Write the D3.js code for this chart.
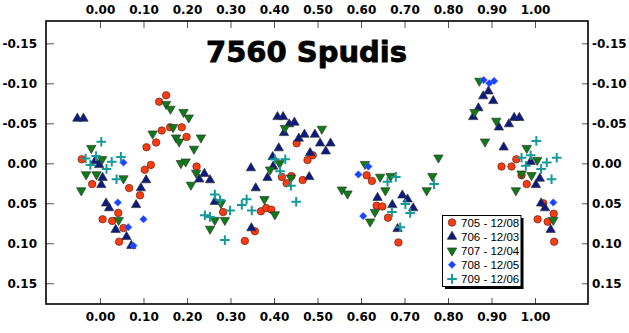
<!DOCTYPE html>
<html>
<head>
<meta charset="utf-8">
<script src="https://cdn.jsdelivr.net/npm/d3@7"></script>
<style>
  html, body { margin: 0; padding: 0; background: #fff; }
  svg { display: block; }
</style>
</head>
<body>
<svg id="chart" width="629" height="333"></svg>
<script>
// Lightcurve of asteroid 7560 Spudis: reduced magnitude vs. rotational phase.
const chartTitle = "7560 Spudis";

const seriesNames = ["705 - 12/08", "706 - 12/03", "707 - 12/04", "708 - 12/05", "709 - 12/06"];

// [phase, magnitude] pairs per session
const s705 = [
  [-0.042,-0.005],[-0.018,0.026],[0.006,0.070],[0.028,0.072],[0.042,0.062],[0.044,0.098],
  [0.054,0.081],[0.067,0.031],[0.092,0.040],[0.103,0.008],[0.117,0.002],[0.107,-0.020],
  [0.129,-0.026],[0.142,-0.041],[0.136,-0.077],[0.152,-0.085],[0.161,-0.045],[0.188,-0.045],
  [0.199,-0.033],[0.222,0.004],[0.283,0.061],[0.333,0.097],[0.356,0.085],[0.370,0.060],
  [0.382,0.056],[0.394,0.058],[0.418,0.017],[0.429,0.025],[0.440,0.016],[0.466,0.021],
  [0.477,-0.004],[0.489,-0.010],[0.452,-0.025],[0.613,0.015],[0.625,0.022],[0.636,0.053],
  [0.649,0.054],[0.662,0.068],[0.686,0.099],[0.923,0.004],[0.946,0.004],[0.957,-0.005],
  [0.969,0.015],[0.981,0.026],[1.006,0.070],[1.019,0.050],[1.029,0.073],[1.043,0.063],
  [1.044,0.098]
];
const s706 = [
  [-0.052,-0.056],[-0.038,-0.056],[-0.011,-0.003],[-0.002,0.002],[0.006,0.018],[0.003,0.027],
  [0.014,0.050],[0.021,0.056],[0.036,0.083],[0.061,0.092],[0.072,0.103],[0.083,0.052],
  [0.094,0.031],[0.106,0.021],[0.228,0.020],[0.240,0.013],[0.253,0.021],[0.264,0.048],
  [0.347,0.006],[0.358,0.031],[0.348,0.081],[0.385,0.018],[0.397,-0.008],[0.398,0.004],
  [0.411,-0.019],[0.408,-0.058],[0.421,-0.058],[0.435,-0.049],[0.447,-0.051],[0.423,-0.038],
  [0.457,-0.031],[0.470,-0.036],[0.494,-0.036],[0.506,-0.025],[0.530,-0.025],[0.519,-0.015],
  [0.483,-0.013],[0.481,0.017],[0.638,0.043],[0.672,0.052],[0.684,0.082],[0.695,0.040],
  [0.707,0.045],[0.720,0.056],[0.858,-0.058],[0.870,-0.069],[0.881,-0.084],[0.893,-0.090],
  [0.904,-0.078],[0.917,-0.045],[0.940,-0.049],[0.952,-0.057],[0.964,-0.057],[0.928,-0.020],
  [0.990,-0.002],[1.002,0.027],[1.011,0.019],[1.014,0.050],[1.023,0.056],[1.036,0.083]
];
const s707 = [
  [-0.043,0.034],[-0.032,0.014],[-0.020,-0.019],[-0.008,0.014],[0.005,-0.005],[0.043,0.071],
  [0.054,0.019],[0.121,-0.037],[0.152,-0.074],[0.162,-0.068],[0.168,-0.045],[0.175,-0.032],
  [0.182,-0.027],[0.192,-0.064],[0.204,-0.057],[0.216,-0.018],[0.232,-0.032],[0.186,0.000],
  [0.197,-0.002],[0.221,0.012],[0.209,0.027],[0.253,0.082],[0.264,0.071],[0.287,0.071],
  [0.278,0.050],[0.378,0.045],[0.391,0.008],[0.402,0.064],[0.413,0.000],[0.425,-0.044],
  [0.439,0.018],[0.510,-0.043],[0.556,0.033],[0.569,0.038],[0.609,0.001],[0.621,0.073],
  [0.632,0.061],[0.644,0.017],[0.668,0.016],[0.656,0.034],[0.751,0.034],[0.764,0.016],
  [0.778,-0.007],[0.872,-0.103],[0.861,-0.064],[0.911,-0.053],[0.885,-0.027],[0.981,-0.019],
  [1.005,-0.004],[0.969,0.013],[0.992,0.015],[0.956,0.034],[1.042,0.071]
];
const s708 = [
  [0.054,-0.001],[0.041,0.049],[0.065,0.080],[0.077,0.103],[0.100,0.070],[0.594,0.014],
  [0.617,0.004],[0.605,0.066],[0.882,-0.104],[0.895,-0.100],[0.906,-0.103],[1.042,0.049]
];
const s709 = [
  [-0.033,-0.006],[0.003,-0.027],[-0.009,-0.009],[0.027,-0.002],[0.048,-0.008],[-0.022,0.002],
  [0.015,0.007],[0.038,0.020],[0.241,0.065],[0.253,0.067],[0.264,0.039],[0.276,0.046],
  [0.287,0.096],[0.299,0.059],[0.326,0.052],[0.337,0.045],[0.349,0.059],[0.402,-0.005],
  [0.426,-0.005],[0.414,0.010],[0.439,0.028],[0.451,0.048],[0.661,0.023],[0.680,0.017],
  [0.671,0.061],[0.690,0.080],[0.702,0.051],[0.713,0.062],[0.768,0.026],[0.969,-0.007],
  [0.979,0.003],[0.990,-0.010],[1.003,-0.028],[1.014,0.007],[1.027,-0.001],[1.038,0.020],
  [1.050,-0.007]
];

const xTickValues = [0, 0.1, 0.2, 0.3, 0.4, 0.5, 0.6, 0.7, 0.8, 0.9, 1.0];
const xTickLabels = ["0.00","0.10","0.20","0.30","0.40","0.50","0.60","0.70","0.80","0.90","1.00"];
const yTickValues = [-0.15, -0.10, -0.05, 0, 0.05, 0.10, 0.15];
const yTickLabels = ["-0.15","-0.10","-0.05","0.00","0.05","0.10","0.15"];

const seriesData = [s705, s706, s707, s708, s709];

// ---- styling ----
const W = 629, H = 333;
const margin = { left: 46, top: 21, right: 41, bottom: 29 };
const iw = W - margin.left - margin.right;
const ih = H - margin.top - margin.bottom;

const styles = [
  { fill: "#ff3a0e", stroke: "#5a2a20", sw: 0.7, shape: "circle" },
  { fill: "#0a1a80", stroke: "#333", sw: 0.7, shape: "up" },
  { fill: "#0b7d14", stroke: "#333", sw: 0.7, shape: "down" },
  { fill: "#1a44ff", stroke: "#4c6cff", sw: 0.5, shape: "diamond" },
  { fill: "none", stroke: "#159a9a", sw: 2, shape: "plus" }
];

function symbolPath(shape) {
  if (shape === "circle") return d3.symbol(d3.symbolCircle, 44)();
  if (shape === "up" || shape === "down") return d3.symbol(d3.symbolTriangle, 38)();
  if (shape === "diamond") return d3.symbol(d3.symbolSquare, 28)();
  return "M-4.8,0H4.8M0,-4.8V4.8";
}
function symbolRotate(shape) {
  if (shape === "down") return 180;
  if (shape === "diamond") return 45;
  return 0;
}

const svg = d3.select("#chart");
svg.append("rect").attr("width", W).attr("height", H).attr("fill", "#fff");

const x = d3.scaleLinear().domain([-0.1241, 1.1218]).range([0, iw]);
const y = d3.scaleLinear().domain([-0.1779, 0.1759]).range([0, ih]);

const g = svg.append("g").attr("transform", `translate(${margin.left},${margin.top})`);

const tickFont = "'DejaVu Sans', sans-serif";

function styleAxis(sel) {
  sel.select(".domain").remove();
  sel.selectAll(".tick line").attr("stroke", "#555").attr("stroke-width", 1);
  sel.selectAll(".tick text")
    .attr("fill", "#000")
    .attr("font-family", tickFont)
    .attr("font-weight", "bold")
    .attr("font-size", 12);
}

g.append("g").attr("transform", `translate(0,${ih})`)
  .call(d3.axisBottom(x).tickValues(xTickValues).tickFormat((d, i) => xTickLabels[i])
    .tickSizeInner(-6).tickSizeOuter(0).tickPadding(8))
  .call(styleAxis);

g.append("g")
  .call(d3.axisTop(x).tickValues(xTickValues).tickFormat((d, i) => xTickLabels[i])
    .tickSizeInner(-7).tickSizeOuter(0).tickPadding(7))
  .call(styleAxis);

g.append("g")
  .call(d3.axisLeft(y).tickValues(yTickValues).tickFormat((d, i) => yTickLabels[i])
    .tickSizeInner(-8).tickSizeOuter(0).tickPadding(9))
  .call(styleAxis);

g.append("g").attr("transform", `translate(${iw},0)`)
  .call(d3.axisRight(y).tickValues(yTickValues).tickFormat((d, i) => yTickLabels[i])
    .tickSizeInner(-6).tickSizeOuter(0).tickPadding(4))
  .call(styleAxis);

// plot frame
g.append("rect").attr("width", iw).attr("height", ih)
  .attr("fill", "none").attr("stroke", "#000").attr("stroke-width", 1.6);

// markers
seriesData.forEach((data, si) => {
  const st = styles[si];
  const path = symbolPath(st.shape);
  const rot = symbolRotate(st.shape);
  g.append("g").selectAll("path").data(data).join("path")
    .attr("d", path)
    .attr("transform", d => `translate(${x(d[0])},${y(d[1])})` + (rot ? ` rotate(${rot})` : ""))
    .attr("fill", st.fill)
    .attr("stroke", st.stroke)
    .attr("stroke-width", st.sw);
});

// title
svg.append("text")
  .attr("x", 306.5).attr("y", 61.5)
  .attr("text-anchor", "middle")
  .attr("font-family", tickFont)
  .attr("font-weight", "bold")
  .attr("font-size", 29)
  .attr("fill", "#000")
  .attr("stroke", "#000")
  .attr("stroke-width", 0.8)
  .text(chartTitle);

// legend
const lg = svg.append("g").attr("transform", "translate(442.5,215.5)");
const lw = 78.5, lh = 71;
lg.append("rect").attr("x", 2.5).attr("y", 2.5).attr("width", lw).attr("height", lh).attr("fill", "#000");
lg.append("rect").attr("width", lw).attr("height", lh).attr("fill", "#fff")
  .attr("stroke", "#000").attr("stroke-width", 1);
seriesNames.forEach((name, i) => {
  const st = styles[i];
  const cy = 7 + i * 14.1;
  const rot = symbolRotate(st.shape);
  lg.append("path")
    .attr("d", symbolPath(st.shape))
    .attr("transform", `translate(9.5,${cy})` + (rot ? ` rotate(${rot})` : ""))
    .attr("fill", st.fill).attr("stroke", st.stroke).attr("stroke-width", st.sw);
  lg.append("text")
    .attr("x", 18.5).attr("y", cy + 4)
    .attr("font-family", "'Liberation Sans', Arial, sans-serif")
    .attr("font-size", 11.5)
    .attr("fill", "#000")
    .text(name);
});
</script>
</body>
</html>
